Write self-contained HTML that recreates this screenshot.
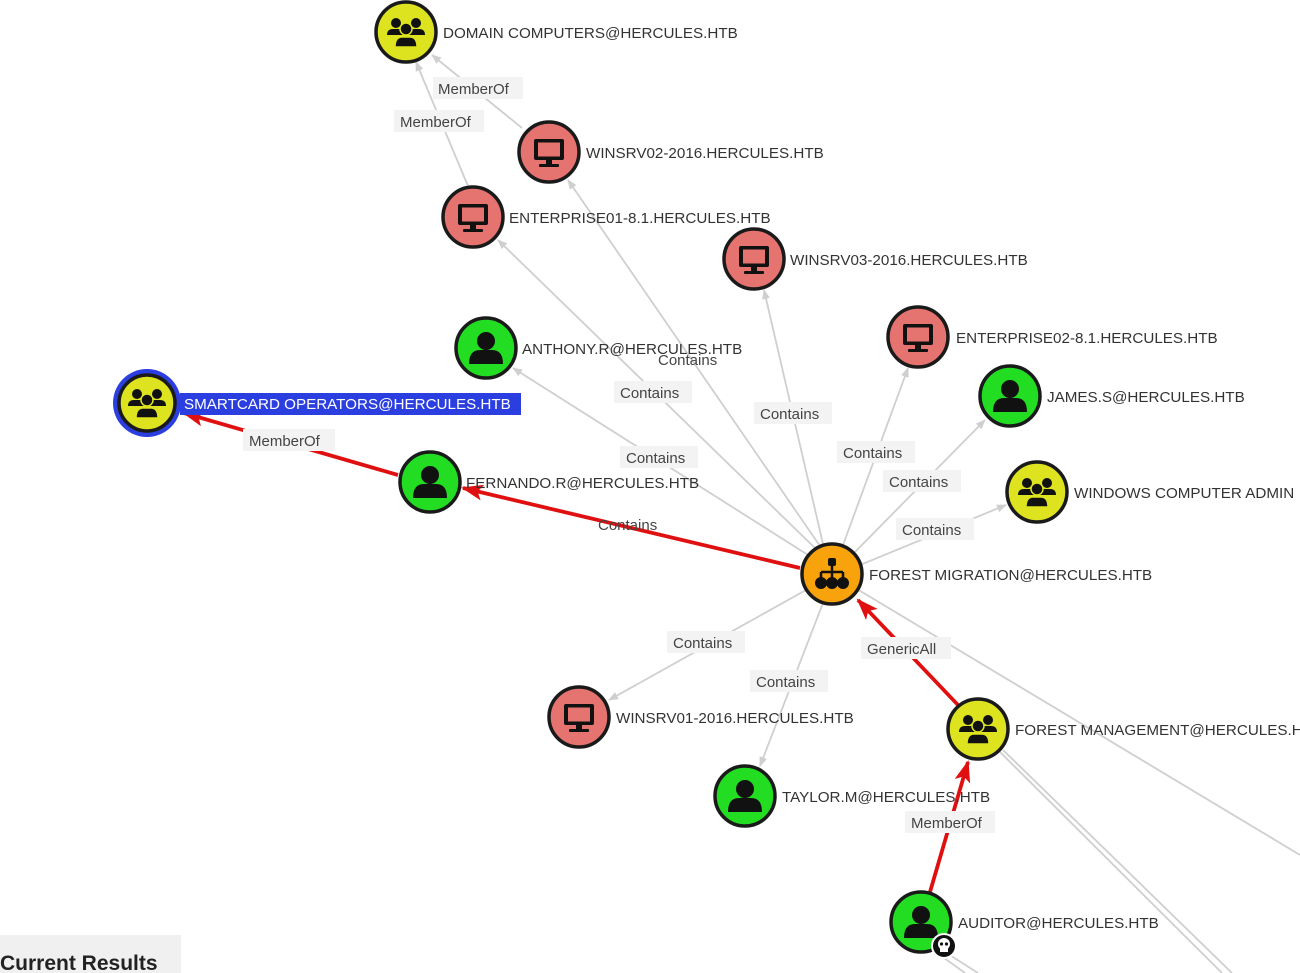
<!DOCTYPE html>
<html><head><meta charset="utf-8"><style>
html,body{margin:0;padding:0;background:#fff;width:1300px;height:973px;overflow:hidden}
svg{display:block}
.nl{font-family:"Liberation Sans",sans-serif;font-size:15.2px;fill:#333}
.el{font-family:"Liberation Sans",sans-serif;font-size:15px;fill:#444}
.e{stroke:#cfcfcf;stroke-width:1.8;fill:none}
.r{stroke:#e01010;stroke-width:3.8;fill:none}
</style></head><body>
<svg width="1300" height="973" viewBox="0 0 1300 973">
<defs>
<marker id="ag" markerWidth="10" markerHeight="10" refX="9" refY="5" orient="auto" markerUnits="userSpaceOnUse"><path d="M0,1 L10,5 L0,9 z" fill="#cfcfcf"/></marker>
<marker id="ar" markerWidth="22" markerHeight="16" refX="20" refY="8" orient="auto" markerUnits="userSpaceOnUse"><path d="M0,0 L22,8 L0,16 L5,8 z" fill="#e01010"/></marker>
<g id="comp"><rect x="-15" y="-13" width="30" height="21" rx="2" fill="#111"/><rect x="-11" y="-9.5" width="22" height="14" fill="#e57370"/><rect x="-3" y="8" width="6" height="5" fill="#111"/><rect x="-10" y="12" width="20" height="3" rx="1" fill="#111"/></g>
<g id="user"><circle cx="0" cy="-7" r="9" fill="#111"/><path d="M-17,16 Q-17,2 -6,2 L6,2 Q17,2 17,16 z" fill="#111"/></g>
<g id="grp"><circle cx="-10" cy="-9" r="5" fill="#111"/><circle cx="10" cy="-9" r="5" fill="#111"/><path d="M-19,3 Q-19,-3 -13,-3 L-7,-3 Q-3,-3 -3,3 z" fill="#111"/><path d="M19,3 Q19,-3 13,-3 L7,-3 Q3,-3 3,3 z" fill="#111"/><circle cx="0" cy="-3" r="6" fill="#111" stroke="#dde31f" stroke-width="1.5"/><path d="M-11,15 Q-11,5 -4,5 L4,5 Q11,5 11,15 z" fill="#111" stroke="#dde31f" stroke-width="1.5"/></g>
<g id="ou"><rect x="-4" y="-16" width="8" height="8" rx="2" fill="#111"/><path d="M0,-8 V-2 M-11,-2 H11 M-11,-2 V4 M0,-2 V4 M11,-2 V4" stroke="#111" stroke-width="2.5" fill="none"/><circle cx="-11" cy="9" r="6" fill="#111"/><circle cx="0" cy="9" r="6" fill="#111"/><circle cx="11" cy="9" r="6" fill="#111"/></g>
</defs>

<g class="e">
<line x1="832" y1="574" x2="1300" y2="855"/>
<line x1="1000" y1="752" x2="1222" y2="973"/>
<line x1="1003" y1="750" x2="1232" y2="973"/>
<line x1="940" y1="955" x2="965" y2="973"/>
<line x1="945" y1="952" x2="978" y2="973"/>
<line x1="522" y1="128" x2="432" y2="55" marker-end="url(#ag)"/>
<line x1="468" y1="186" x2="416" y2="62" marker-end="url(#ag)"/>
<line x1="820" y1="546" x2="568" y2="180" marker-end="url(#ag)"/>
<line x1="815" y1="548" x2="498" y2="240" marker-end="url(#ag)"/>
<line x1="823" y1="544" x2="764" y2="290" marker-end="url(#ag)"/>
<line x1="808" y1="555" x2="513" y2="368" marker-end="url(#ag)"/>
<line x1="843" y1="545" x2="908" y2="368" marker-end="url(#ag)"/>
<line x1="855" y1="552" x2="985" y2="420" marker-end="url(#ag)"/>
<line x1="860" y1="565" x2="1006" y2="505" marker-end="url(#ag)"/>
<line x1="806" y1="590" x2="609" y2="700" marker-end="url(#ag)"/>
<line x1="823" y1="603" x2="760" y2="766" marker-end="url(#ag)"/>
</g>
<line class="r" x1="800" y1="568" x2="463" y2="488" marker-end="url(#ar)"/>
<line class="r" x1="398" y1="475" x2="184" y2="413" marker-end="url(#ar)"/>
<line class="r" x1="958" y1="705" x2="858" y2="600" marker-end="url(#ar)"/>
<line class="r" x1="930" y1="892" x2="968" y2="762" marker-end="url(#ar)"/>

<g>
<rect x="433" y="77" width="90" height="22" fill="#f3f3f3"/><text class="el" x="438" y="94">MemberOf</text>
<rect x="394" y="110" width="90" height="22" fill="#f3f3f3"/><text class="el" x="400" y="127">MemberOf</text>
<rect x="614" y="381" width="78" height="22" fill="#f3f3f3"/><text class="el" x="620" y="398">Contains</text>
<rect x="754" y="402" width="78" height="22" fill="#f3f3f3"/><text class="el" x="760" y="419">Contains</text>
<rect x="620" y="446" width="78" height="22" fill="#f3f3f3"/><text class="el" x="626" y="463">Contains</text>
<rect x="837" y="441" width="78" height="22" fill="#f3f3f3"/><text class="el" x="843" y="458">Contains</text>
<rect x="883" y="470" width="78" height="22" fill="#f3f3f3"/><text class="el" x="889" y="487">Contains</text>
<rect x="896" y="518" width="78" height="22" fill="#f3f3f3"/><text class="el" x="902" y="535">Contains</text>
<text class="el" x="598" y="530">Contains</text>
<rect x="243" y="429" width="92" height="22" fill="#f3f3f3"/><text class="el" x="249" y="446">MemberOf</text>
<rect x="667" y="631" width="78" height="22" fill="#f3f3f3"/><text class="el" x="673" y="648">Contains</text>
<rect x="750" y="670" width="78" height="22" fill="#f3f3f3"/><text class="el" x="756" y="687">Contains</text>
<rect x="861" y="637" width="90" height="22" fill="#f3f3f3"/><text class="el" x="867" y="654">GenericAll</text>
<rect x="905" y="811" width="90" height="22" fill="#f3f3f3"/><text class="el" x="911" y="828">MemberOf</text>
</g>

<g stroke="#1a1a1a" stroke-width="3.5">
<circle cx="406" cy="32" r="30" fill="#dde31f"/>
<circle cx="549" cy="152" r="30" fill="#e57370"/>
<circle cx="473" cy="217" r="30" fill="#e57370"/>
<circle cx="754" cy="259" r="30" fill="#e57370"/>
<circle cx="486" cy="348" r="30" fill="#22dd22"/>
<circle cx="918" cy="337" r="30" fill="#e57370"/>
<circle cx="1010" cy="396" r="30" fill="#22dd22"/>
<circle cx="147" cy="403" r="34" fill="#2b3ee0" stroke="none"/>
<circle cx="147" cy="403" r="28" fill="#dde31f"/>
<circle cx="430" cy="482" r="30" fill="#22dd22"/>
<circle cx="1037" cy="492" r="30" fill="#dde31f"/>
<circle cx="832" cy="574" r="30" fill="#f9a30c"/>
<circle cx="579" cy="717" r="30" fill="#e57370"/>
<circle cx="978" cy="729" r="30" fill="#dde31f"/>
<circle cx="745" cy="796" r="30" fill="#22dd22"/>
<circle cx="921" cy="922" r="30" fill="#22dd22"/>
</g>
<use href="#grp" x="406" y="32"/>
<use href="#comp" x="549" y="152"/>
<use href="#comp" x="473" y="217"/>
<use href="#comp" x="754" y="259"/>
<use href="#user" x="486" y="348"/>
<use href="#comp" x="918" y="337"/>
<use href="#user" x="1010" y="396"/>
<use href="#grp" x="147" y="403"/>
<use href="#user" x="430" y="482"/>
<use href="#grp" x="1037" y="492"/>
<use href="#ou" x="832" y="574"/>
<use href="#comp" x="579" y="717"/>
<use href="#grp" x="978" y="729"/>
<use href="#user" x="745" y="796"/>
<use href="#user" x="921" y="922"/>
<circle cx="944" cy="946" r="12" fill="#111" stroke="#fff" stroke-width="2"/>
<circle cx="944" cy="944" r="6" fill="#fff"/><rect x="940" y="947" width="8" height="5" fill="#fff"/>
<circle cx="941.5" cy="944" r="1.6" fill="#111"/><circle cx="946.5" cy="944" r="1.6" fill="#111"/>

<text class="nl" x="443" y="38">DOMAIN COMPUTERS@HERCULES.HTB</text>
<text class="nl" x="586" y="158">WINSRV02-2016.HERCULES.HTB</text>
<text class="nl" x="509" y="223">ENTERPRISE01-8.1.HERCULES.HTB</text>
<text class="nl" x="790" y="265">WINSRV03-2016.HERCULES.HTB</text>
<text class="nl" x="522" y="354">ANTHONY.R@HERCULES.HTB</text>
<text class="el" x="658" y="365">Contains</text>
<text class="nl" x="956" y="343">ENTERPRISE02-8.1.HERCULES.HTB</text>
<text class="nl" x="1047" y="402">JAMES.S@HERCULES.HTB</text>
<rect x="180" y="393" width="341" height="22" fill="#2b3ee0"/>
<text class="nl" x="184" y="409" style="fill:#fff">SMARTCARD OPERATORS@HERCULES.HTB</text>
<text class="nl" x="466" y="488">FERNANDO.R@HERCULES.HTB</text>
<text class="nl" x="1074" y="498">WINDOWS COMPUTER ADMIN</text>
<text class="nl" x="869" y="580">FOREST MIGRATION@HERCULES.HTB</text>
<text class="nl" x="616" y="723">WINSRV01-2016.HERCULES.HTB</text>
<text class="nl" x="1015" y="735">FOREST MANAGEMENT@HERCULES.HTB</text>
<text class="nl" x="782" y="802">TAYLOR.M@HERCULES.HTB</text>
<text class="nl" x="958" y="928">AUDITOR@HERCULES.HTB</text>

<rect x="0" y="935" width="181" height="38" fill="#f0f0f0"/>
<text x="0" y="970" style="font-family:'Liberation Sans',sans-serif;font-size:21px;font-weight:bold;fill:#222">Current Results</text>
</svg>
</body></html>
